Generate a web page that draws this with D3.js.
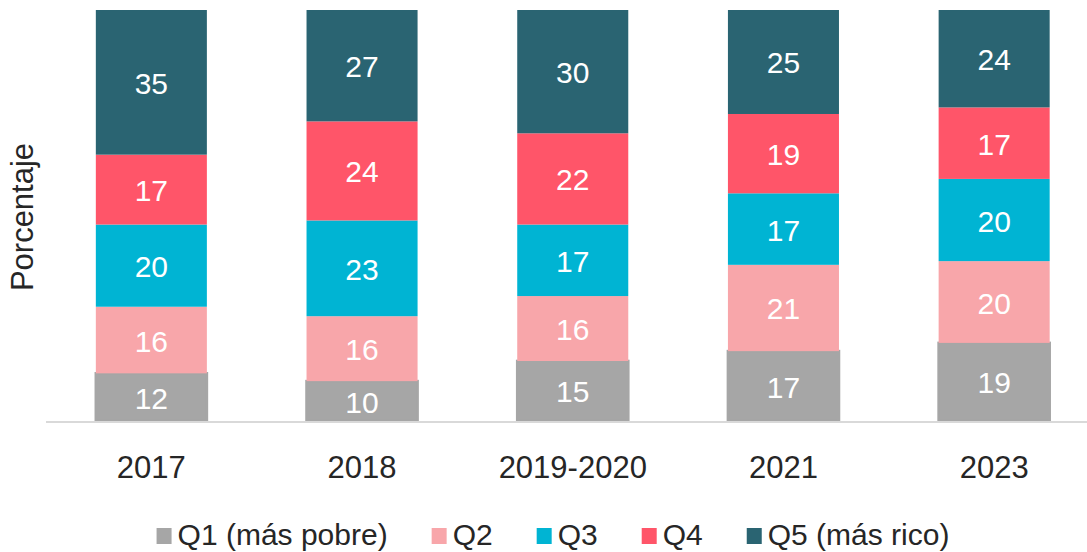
<!DOCTYPE html>
<html>
<head>
<meta charset="utf-8">
<script src="https://cdn.jsdelivr.net/npm/d3@7"></script>
<style>
  html, body { margin: 0; padding: 0; background: #fff; }
  svg { display: block; font-family: "Liberation Sans", Arial, sans-serif; }
</style>
</head>
<body>
<svg id="chart" width="1087" height="552"></svg>
<script>
const categories = ["2017", "2018", "2019-2020", "2021", "2023"];
const seriesNames = ["Q1 (más pobre)", "Q2", "Q3", "Q4", "Q5 (más rico)"];
const seriesColors = ["#a6a6a6", "#f8a6aa", "#00b4d3", "#ff5569", "#2a6472"];
const q1 = [11.6, 9.7, 14.6, 17.0, 19.0];
const q2 = [16.2, 15.8, 15.8, 21.0, 19.9];
const q3 = [20.0, 23.3, 17.4, 17.4, 20.0];
const q4 = [17.0, 24.1, 22.2, 19.3, 17.4];
const q5 = [35.2, 27.1, 30.0, 25.3, 23.7];
const seriesValues = [q1, q2, q3, q4, q5];
const yLabel = "Porcentaje";

const svg = d3.select("#chart");
const baseY = 421, topY = 10;

const rows = categories.map((c, i) => {
  const r = { cat: c };
  seriesNames.forEach((s, j) => r[s] = seriesValues[j][i]);
  return r;
});
const stack = d3.stack().keys(seriesNames)(rows);
const total = d3.max(rows, r => d3.sum(seriesNames, s => r[s]));

const x = d3.scaleBand().domain(categories).range([46, 1099.5]).paddingInner(0.473).paddingOuter(0.2365);
const y = d3.scaleLinear().domain([0, total]).range([baseY, topY]);

// bars
const layers = svg.append("g").selectAll("g").data(stack).join("g")
  .attr("fill", (d, i) => seriesColors[i]);
layers.selectAll("rect").data(d => d.map(p => ({ p, key: d.key, idx: d.index }))).join("rect")
  .attr("x", d => x(d.p.data.cat))
  .attr("width", x.bandwidth())
  .attr("y", d => y(d.p[1]))
  .attr("height", d => y(d.p[0]) - y(d.p[1]))
  .attr("stroke", d => d.idx === 0 ? seriesColors[0] : "none")
  .attr("stroke-width", d => d.idx === 0 ? 2.6 : 0);

// value labels
layers.selectAll("text").data(d => d.map(p => ({ p, key: d.key }))).join("text")
  .attr("x", d => x(d.p.data.cat) + x.bandwidth() / 2)
  .attr("y", d => (y(d.p[0]) + y(d.p[1])) / 2 + 1)
  .attr("text-anchor", "middle")
  .attr("dominant-baseline", "central")
  .attr("fill", "#ffffff")
  .attr("font-size", 30)
  .text(d => Math.round(d.p[1] - d.p[0]));

// x axis
const xAxis = svg.append("g").attr("transform", `translate(0,${baseY + 1})`)
  .call(d3.axisBottom(x).tickSize(0).tickPadding(0));
xAxis.select(".domain").remove();
svg.append("line").attr("x1", 46).attr("x2", 1087).attr("y1", baseY + 1).attr("y2", baseY + 1)
  .attr("stroke", "#d9d9d9").attr("stroke-width", 1.8);
xAxis.selectAll("text")
  .attr("y", 56)
  .attr("dy", null)
  .attr("font-size", 31)
  .attr("font-family", "Liberation Sans, Arial, sans-serif")
  .attr("fill", "#262626");

// y label
svg.append("text")
  .attr("transform", `translate(33,217) rotate(-90)`)
  .attr("text-anchor", "middle")
  .attr("font-size", 31)
  .attr("fill", "#262626")
  .text(yLabel);

// legend
const legend = svg.append("g");
const items = legend.selectAll("g").data(seriesNames).join("g");
items.append("rect").attr("width", 15).attr("height", 16).attr("y", -17)
  .attr("fill", (d, i) => seriesColors[i]);
items.append("text").attr("x", 21).attr("y", 0).attr("font-size", 30).attr("fill", "#262626")
  .text(d => d);
let cx = 0;
const gap = 44;
items.each(function () {
  const g = d3.select(this);
  const w = 21 + g.select("text").node().getComputedTextLength();
  g.attr("transform", `translate(${cx},545)`);
  cx += w + gap;
});
const legW = cx - gap;
legend.attr("transform", `translate(${553 - legW / 2},0)`);
</script>
</body>
</html>
